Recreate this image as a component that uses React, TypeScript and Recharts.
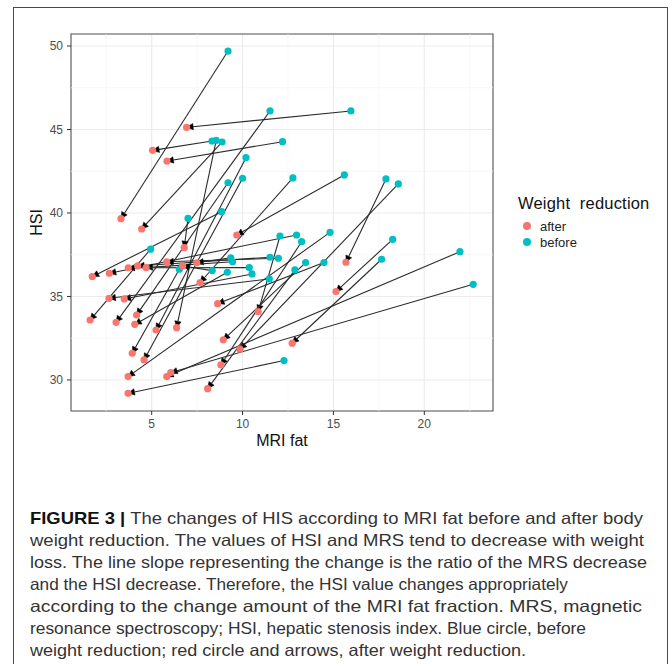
import React from 'react';
import {
  ScatterChart,
  Scatter,
  XAxis,
  YAxis,
  CartesianGrid,
  ReferenceLine,
  ReferenceArea,
  Legend,
} from 'recharts';

// before weight reduction (cyan), paired index-by-index with after (red)
const beforeMRI = [9.2, 15.96, 12.2, 8.32, 8.87, 8.55, 11.51, 10.19, 9.2, 10.0, 12.77, 15.6, 17.89, 18.57, 8.85, 7.0, 12.06, 12.97, 13.25, 14.81, 18.26, 4.94, 21.96, 11.51, 11.97, 9.35, 9.45, 13.47, 14.48, 17.65, 10.37, 6.52, 12.88, 8.33, 9.16, 10.52, 11.47, 22.69, 12.28];
const beforeHSI = [49.7, 46.11, 44.27, 44.31, 44.25, 44.35, 46.11, 43.31, 41.81, 42.08, 42.1, 42.28, 42.04, 41.74, 40.08, 39.68, 38.62, 38.68, 38.28, 38.84, 38.42, 37.83, 37.68, 37.35, 37.29, 37.32, 37.08, 37.03, 37.03, 37.23, 36.73, 36.63, 36.59, 36.55, 36.45, 36.35, 36.05, 35.73, 31.16];
const afterMRI = [3.31, 6.92, 5.84, 5.05, 4.45, 6.37, 3.04, 5.24, 4.17, 4.58, 7.66, 9.68, 15.69, 9.86, 1.73, 6.79, 10.86, 2.67, 8.81, 3.7, 15.14, 1.61, 5.83, 4.23, 5.83, 7.48, 4.69, 8.94, 8.63, 12.73, 3.71, 3.93, 8.08, 6.7, 4.07, 3.49, 2.65, 6.05, 3.7];
const afterHSI = [39.66, 45.13, 43.11, 43.75, 39.04, 33.13, 33.45, 32.99, 33.89, 31.2, 35.83, 38.68, 37.05, 31.84, 36.19, 37.92, 34.09, 36.39, 30.9, 30.2, 35.29, 33.59, 30.2, 36.83, 37.08, 37.02, 36.73, 32.4, 34.57, 32.2, 36.72, 31.6, 29.48, 36.83, 33.33, 34.85, 34.89, 30.44, 29.2];

const xTicks = [5, 10, 15, 20];
const yTicks = [30, 35, 40, 45, 50];
const xMinor = [2.5, 7.5, 12.5, 17.5, 22.5];
const yMinor = [32.5, 37.5, 42.5, 47.5];
const xDomain: [number, number] = [0.56, 23.78];
const yDomain: [number, number] = [28.14, 50.72];

const seriesNames = ['after', 'before'];
const captionBold = 'FIGURE 3 | ';
const captionLines = [
  'The changes of HIS according to MRI fat before and after body',
  'weight reduction. The values of HSI and MRS tend to decrease with weight',
  'loss. The line slope representing the change is the ratio of the MRS decrease',
  'and the HSI decrease. Therefore, the HSI value changes appropriately',
  'according to the change amount of the MRI fat fraction. MRS, magnetic',
  'resonance spectroscopy; HSI, hepatic stenosis index. Blue circle, before',
  'weight reduction; red circle and arrows, after weight reduction.',
];
const captionWidths = [613, 614, 617, 538, 612, 556, 496];

const RED = '#F8766D';
const CYAN = '#00BFC4';
const FONT = '"Liberation Sans", Arial, Helvetica, sans-serif';

const beforeData = beforeMRI.map((x, i) => ({ x, y: beforeHSI[i] }));
const afterData = afterMRI.map((x, i) => ({ x, y: afterHSI[i] }));

const dot = (color: string) => (p: any) => (
  <circle cx={p.cx} cy={p.cy} r={3.6} fill={color} stroke="none" />
);

const Arrow = (p: any) => {
  const { x1, y1, x2, y2 } = p;
  const dx = x2 - x1;
  const dy = y2 - y1;
  const len = Math.sqrt(dx * dx + dy * dy) || 1;
  const ux = dx / len;
  const uy = dy / len;
  const L = 6.5;
  const W = 3.2;
  const bx = x2 - ux * L;
  const by = y2 - uy * L;
  const pts = `${x2},${y2} ${bx - uy * W},${by + ux * W} ${bx + uy * W},${by - ux * W}`;
  return (
    <g>
      <line x1={x1} y1={y1} x2={bx} y2={by} stroke="#2b2b2b" strokeWidth={1.1} />
      <polygon points={pts} fill="#000" stroke="#000" strokeWidth={0.5} />
    </g>
  );
};

const LegendBox = () => (
  <div style={{ position: 'relative', width: 150, height: 64, fontFamily: FONT }}>
    <div style={{ position: 'absolute', left: 3, top: 3, fontSize: 16.5, lineHeight: '20px', color: '#111', whiteSpace: 'pre', letterSpacing: 0.2 }}>
      {'Weight  reduction'}
    </div>
    {seriesNames.map((name, i) => (
      <div key={name} style={{ position: 'absolute', left: 8, top: 29 + i * 16, height: 14, display: 'flex', alignItems: 'center' }}>
        <span style={{ display: 'inline-block', width: 8, height: 8, borderRadius: 4, background: i === 0 ? RED : CYAN }} />
        <span style={{ marginLeft: 9, fontSize: 13, color: '#222' }}>{name}</span>
      </div>
    ))}
  </div>
);

const YTitle = (props: any) => {
  const vb = props.viewBox || {};
  const cx = vb.x + 5;
  const cy = vb.y + vb.height / 2;
  return (
    <text x={cx} y={cy} transform={`rotate(-90, ${cx}, ${cy})`} textAnchor="middle" dominantBaseline="central" fontSize={16} fill="#111" fontFamily={FONT}>
      HSI
    </text>
  );
};

export default function App() {
  return (
    <div>
      <div
        style={{
          position: 'absolute',
          left: 13,
          top: 7,
          width: 655,
          height: 657,
          boxSizing: 'border-box',
          border: '1.6px solid #4a4a4a',
          borderBottom: 'none',
          background: '#fff',
        }}
      />
      <div style={{ position: 'absolute', left: 0, top: 0, width: 670, height: 460 }}>
        <ScatterChart width={670} height={460} margin={{ top: 34, right: 177, bottom: 4, left: 31 }} style={{ fontFamily: FONT }}>
          <CartesianGrid stroke="#EBEBEB" strokeWidth={1.1} />
          {xMinor.map((v) => (
            <ReferenceLine key={'xm' + v} x={v} stroke="#F3F3F3" strokeWidth={0.7} />
          ))}
          {yMinor.map((v) => (
            <ReferenceLine key={'ym' + v} y={v} stroke="#F3F3F3" strokeWidth={0.7} />
          ))}
          <XAxis
            type="number"
            dataKey="x"
            domain={xDomain}
            ticks={xTicks}
            allowDataOverflow
            height={45}
            axisLine={false}
            tickLine={{ stroke: '#333', strokeWidth: 1 }}
            tickSize={4}
            tickMargin={4}
            tick={{ fontSize: 12, fill: '#4D4D4D' }}
            label={{ value: 'MRI fat', position: 'insideBottom', offset: 10, fontSize: 16, fill: '#111' }}
          />
          <YAxis
            type="number"
            dataKey="y"
            domain={yDomain}
            ticks={yTicks}
            allowDataOverflow
            width={40}
            axisLine={false}
            tickLine={{ stroke: '#333', strokeWidth: 1 }}
            tickSize={4}
            tickMargin={4}
            tick={{ fontSize: 12, fill: '#4D4D4D' }}
            label={{ content: (p: any) => <YTitle {...p} /> }}
          />
          <ReferenceArea
            x1={xDomain[0]}
            x2={xDomain[1]}
            y1={yDomain[0]}
            y2={yDomain[1]}
            fill="none"
            fillOpacity={0}
            stroke="#595959"
            strokeWidth={1.1}
            ifOverflow="visible"
          />
          <Scatter name="before" data={beforeData} fill={CYAN} shape={dot(CYAN)} isAnimationActive={false} />
          <Scatter name="after" data={afterData} fill={RED} shape={dot(RED)} isAnimationActive={false} />
          {beforeData.map((b, i) => (
            <ReferenceLine
              key={'ar' + i}
              segment={[
                { x: b.x, y: b.y },
                { x: afterData[i].x, y: afterData[i].y },
              ]}
              shape={Arrow}
              ifOverflow="visible"
            />
          ))}
          <Legend
            layout="horizontal"
            verticalAlign="middle"
            align="center"
            wrapperStyle={{ left: 515, top: 190, width: 150, height: 64 }}
            content={() => <LegendBox />}
          />
        </ScatterChart>
      </div>
      <svg style={{ position: 'absolute', left: 0, top: 490 }} width={670} height={174}>
        {captionLines.map((line, i) => (
          <text
            key={i}
            x={30}
            y={34 + i * 22}
            fontSize={16.5}
            fontFamily={FONT}
            fill="#333"
            textLength={captionWidths[i]}
            lengthAdjust="spacingAndGlyphs"
          >
            {i === 0 ? <tspan fontWeight="bold" fill="#111">{captionBold}</tspan> : null}
            {line}
          </text>
        ))}
      </svg>
    </div>
  );
}
